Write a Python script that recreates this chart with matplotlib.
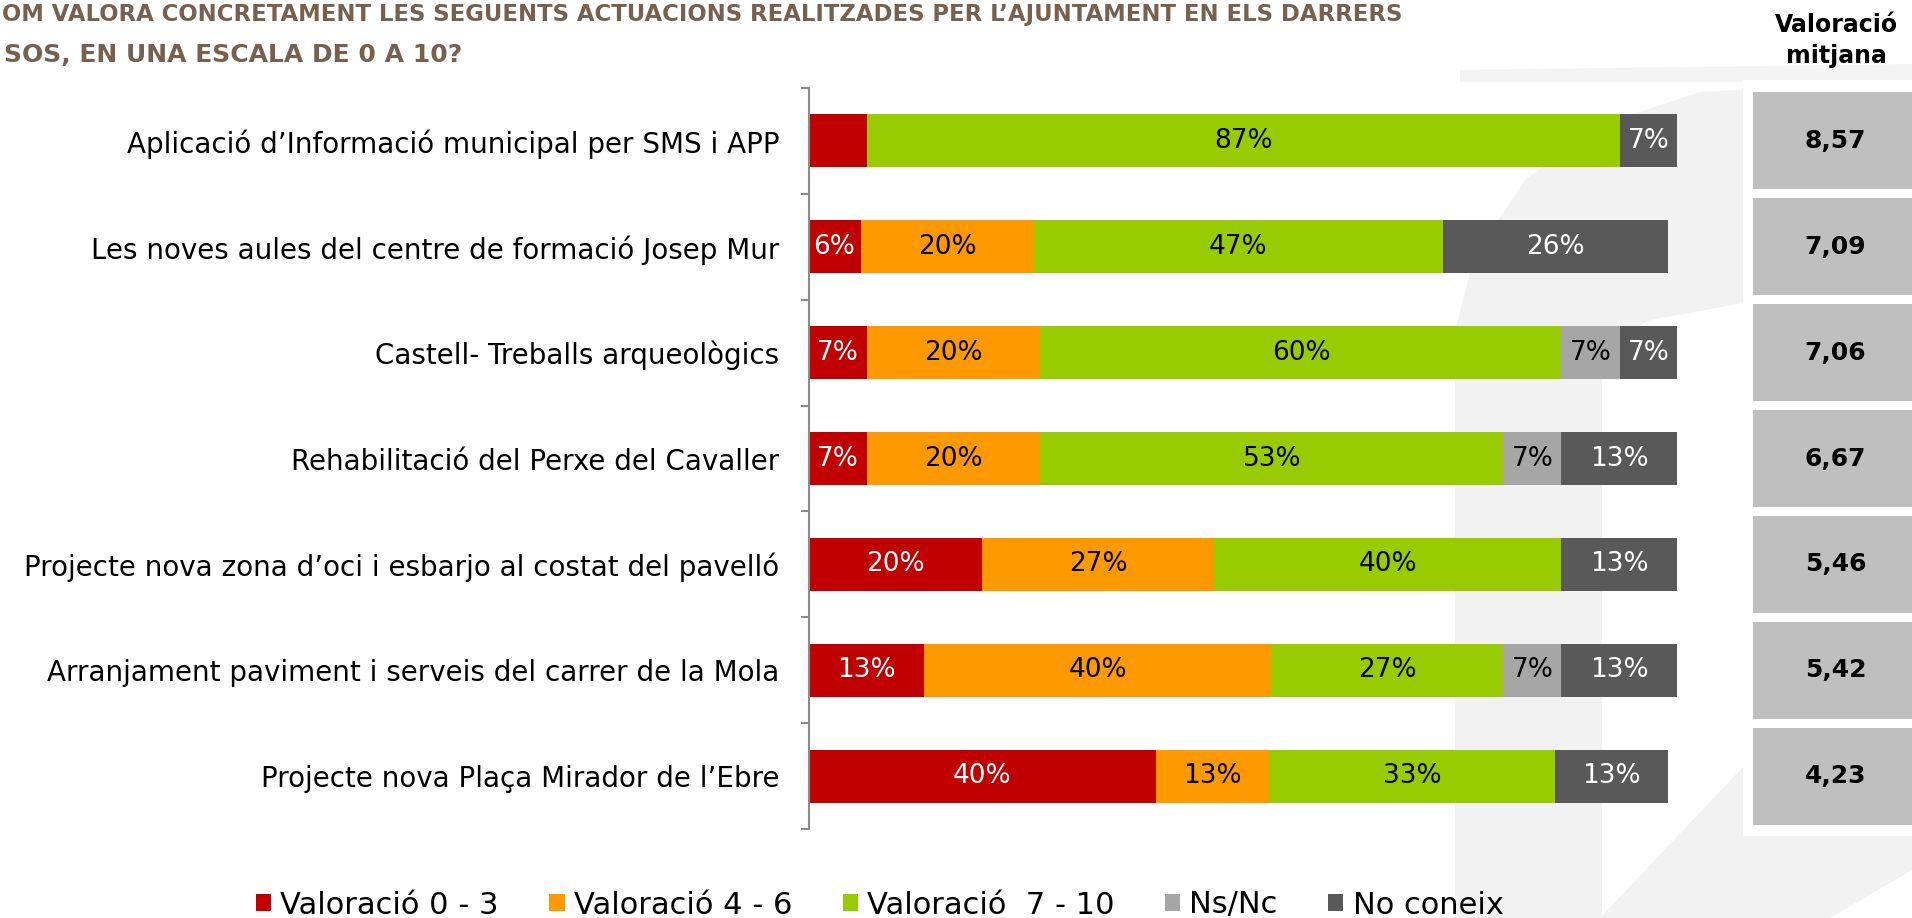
import matplotlib
matplotlib.use("Agg")
import matplotlib.pyplot as plt
from matplotlib.patches import Rectangle, Polygon
import numpy as np

# data
categories = [
    "Aplicació d’Informació municipal per SMS i APP",
    "Les noves aules del centre de formació Josep Mur",
    "Castell- Treballs arqueològics",
    "Rehabilitació del Perxe del Cavaller",
    "Projecte nova zona d’oci i esbarjo al costat del pavelló",
    "Arranjament paviment i serveis del carrer de la Mola",
    "Projecte nova Plaça Mirador de l’Ebre",
]
series_names = ["Valoració 0 - 3", "Valoració 4 - 6", "Valoració  7 - 10", "Ns/Nc", "No coneix"]
val_0_3 = [6.7, 6, 6.7, 6.7, 20, 13.3, 40]
val_4_6 = [0, 20, 20, 20, 26.7, 40, 13]
val_7_10 = [86.7, 47, 60, 53.3, 40, 26.7, 33]
val_nsnc = [0, 0, 6.7, 6.7, 0, 6.7, 0]
val_noconeix = [6.7, 26, 6.7, 13.3, 13.3, 13.3, 13]
mitjana = [8.57, 7.09, 7.06, 6.67, 5.46, 5.42, 4.23]
hidden_labels = [(0, 0)]  # (serie, categoria) sense etiqueta a l'original

# title as it shows on the slide (its left edge is cut off there)
title_1 = "OM VALORA CONCRETAMENT LES SEGUENTS ACTUACIONS REALITZADES PER L’AJUNTAMENT EN ELS DARRERS"
title_2 = "SOS, EN UNA ESCALA DE 0 A 10?"

colors = ["#C00000", "#FF9900", "#99CC00", "#A6A6A6", "#595959"]
text_colors = ["white", "black", "black", "black", "white"]
narrow = ["Liberation Sans Narrow", "DejaVu Sans"]

W, H = 1912, 918
fig = plt.figure(figsize=(W / 100, H / 100), dpi=100)
fig.patch.set_facecolor("white")


def fx(x):
    return x / W


def fy(y):
    return 1 - y / H


def poly(pts, color):
    fig.patches.append(Polygon([(fx(x), fy(y)) for x, y in pts], closed=True,
                               transform=fig.transFigure, facecolor=color,
                               edgecolor="none", zorder=0))


# watermark in the background
wm = "#F2F2F2"
poly([(1455, 918), (1455, 330), (1475, 255), (1525, 180), (1600, 125), (1700, 92),
      (1912, 80), (1912, 300), (1760, 300), (1650, 320), (1602, 345), (1602, 918)], wm)
poly([(1460, 70), (1912, 64), (1912, 82), (1460, 82)], "#F4F4F4")
poly([(1600, 918), (1745, 765), (1912, 720), (1912, 870), (1830, 918)], wm)

# white frame behind the average column
fig.patches.append(Rectangle((fx(1743), fy(836)), fx(W - 1743), fy(80) - fy(836),
                             transform=fig.transFigure, facecolor="white",
                             edgecolor="none", zorder=0.5))

ax = fig.add_axes([fx(808.5), fy(829), fx(868.5), fy(88) - fy(829)])
ax.set_zorder(2)
ax.set_facecolor("none")
y = np.arange(len(categories))
series = [val_0_3, val_4_6, val_7_10, val_nsnc, val_noconeix]
left = np.zeros(len(categories))
handles = []
for i, vals in enumerate(series):
    vals = np.array(vals, dtype=float)
    b = ax.barh(y, vals, left=left, height=0.5, color=colors[i], label=series_names[i])
    handles.append(b)
    for j, v in enumerate(vals):
        if v > 0 and (i, j) not in hidden_labels:
            ax.text(left[j] + v / 2, y[j], f"{v:.0f}%", ha="center", va="center",
                    color=text_colors[i], fontsize=19)
    left += vals

ax.set_xlim(0, 100)
ax.set_ylim(len(categories) - 0.5, -0.5)
for s in ["top", "right", "bottom"]:
    ax.spines[s].set_visible(False)
ax.spines["left"].set_color("#8C8C8C")
ax.spines["left"].set_linewidth(1.5)
ax.set_xticks([])
ax.set_yticks(y)
ax.set_yticklabels(categories, fontsize=20)
ax.tick_params(axis="y", which="major", length=0, pad=21)
ax.set_yticks(np.arange(-0.5, len(categories), 1), minor=True)
ax.tick_params(axis="y", which="minor", length=6, width=1.5, color="#8C8C8C")

# average column
ax2 = fig.add_axes([fx(1753), fy(829), fx(W - 1753), fy(88) - fy(829)])
ax2.set_zorder(3)
ax2.set_facecolor("none")
ax2.barh(y, [1] * len(y), height=0.915, color="#BFBFBF")
for j, m in enumerate(mitjana):
    ax2.text(0.52, y[j], f"{m:.2f}".replace(".", ","), ha="center", va="center",
             fontsize=18, fontweight="bold", color="black")
ax2.set_xlim(0, 1)
ax2.set_ylim(len(categories) - 0.5, -0.5)
ax2.axis("off")

fig.text(fx(1836), fy(25), "Valoració", ha="center", va="center",
         fontsize=17, fontweight="bold", family=narrow)
fig.text(fx(1836), fy(56), "mitjana", ha="center", va="center",
         fontsize=17, fontweight="bold", family=narrow)

title_color = "#76604E"
fig.text(fx(2), fy(14), title_1, ha="left", va="center", fontsize=16.4,
         fontweight="bold", color=title_color, family=narrow)
fig.text(fx(4), fy(55), title_2, ha="left", va="center", fontsize=18,
         fontweight="bold", color=title_color, family=narrow)

fig.legend(handles=handles, loc="center left", bbox_to_anchor=(fx(256), fy(905)),
           ncol=5, frameon=False, fontsize=22, handlelength=0.5, handleheight=0.5,
           handletextpad=0.3, columnspacing=1.65, borderpad=0, borderaxespad=0)

fig.savefig("out.png", dpi=100)
